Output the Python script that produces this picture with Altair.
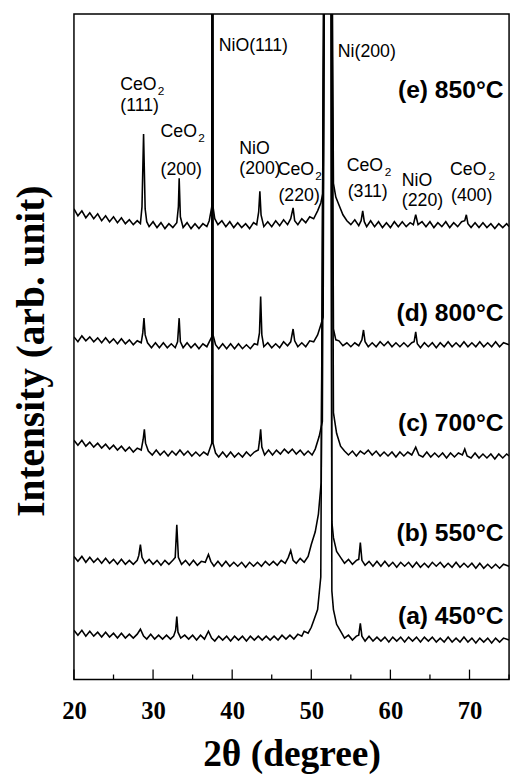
import altair as alt
import pandas as pd

# ---------------- data (2theta in degrees, intensity in arb. units) ----------------
trace_e = [
    (20.0, 478), (20.5, 471), (21.0, 476), (21.5, 469), (22.0, 474), (22.5, 468), (23.0, 473), (23.5, 466),
    (24.0, 471), (24.5, 465), (25.0, 470), (25.5, 464), (26.0, 469), (26.5, 463), (27.0, 467), (27.5, 462),
    (28.0, 466), (28.4, 463), (28.6, 480), (28.8, 554), (29.0, 478), (29.2, 465), (29.5, 460), (30.0, 465),
    (30.5, 459), (31.0, 464), (31.5, 458), (32.0, 463), (32.5, 459), (33.0, 464), (33.2, 480), (33.3, 509),
    (33.45, 470), (33.8, 459), (34.3, 464), (34.8, 458), (35.3, 463), (35.8, 458), (36.3, 463), (36.8, 460),
    (37.1, 466), (37.42, 480), (37.5, 1000), (37.58, 480), (37.8, 468), (38.2, 462), (38.7, 466), (39.2, 460),
    (39.7, 465), (40.2, 459), (40.7, 464), (41.2, 459), (41.7, 463), (42.2, 458), (42.7, 464), (43.1, 462),
    (43.35, 475), (43.5, 496), (43.65, 472), (44.0, 460), (44.5, 465), (45.0, 460), (45.5, 466), (46.0, 461),
    (46.5, 467), (47.0, 462), (47.4, 468), (47.7, 479), (47.9, 466), (48.3, 462), (48.8, 468), (49.3, 464),
    (49.8, 470), (50.3, 468), (50.8, 476), (51.2, 484), (51.5, 495), (51.75, 1000), (52.45, 1000), (52.8, 504),
    (53.1, 490), (53.5, 482), (54.0, 472), (54.5, 466), (55.0, 462), (55.5, 467), (56.0, 461), (56.3, 466),
    (56.5, 476), (56.7, 465), (57.0, 460), (57.5, 466), (58.0, 460), (58.5, 465), (59.0, 459), (59.5, 464),
    (60.0, 459), (60.5, 465), (61.0, 460), (61.5, 465), (62.0, 460), (62.5, 464), (62.9, 462), (63.2, 472),
    (63.5, 462), (64.0, 465), (64.5, 460), (65.0, 465), (65.5, 459), (66.0, 464), (66.5, 460), (67.0, 465),
    (67.5, 459), (68.0, 464), (68.5, 460), (69.0, 465), (69.4, 466), (69.6, 472), (69.8, 463), (70.2, 459),
    (70.7, 464), (71.2, 459), (71.7, 464), (72.2, 459), (72.7, 463), (73.2, 458), (73.7, 463), (74.2, 459),
    (74.7, 463), (75.0, 460),
]

trace_d = [
    (20.0, 348), (20.5, 343), (21.0, 349), (21.5, 344), (22.0, 348), (22.5, 343), (23.0, 347), (23.5, 342),
    (24.0, 347), (24.5, 342), (25.0, 346), (25.5, 341), (26.0, 346), (26.5, 341), (27.0, 345), (27.5, 340),
    (28.0, 344), (28.5, 342), (28.7, 352), (28.85, 367), (29.0, 350), (29.3, 342), (29.8, 337), (30.3, 342),
    (30.8, 337), (31.3, 342), (31.8, 337), (32.3, 341), (32.8, 337), (33.1, 343), (33.3, 367), (33.45, 343),
    (33.8, 337), (34.3, 342), (34.8, 337), (35.3, 341), (35.8, 336), (36.3, 341), (36.8, 338), (37.42, 348),
    (37.5, 1000), (37.58, 350), (37.9, 340), (38.3, 336), (38.8, 341), (39.3, 336), (39.8, 341), (40.3, 336),
    (40.8, 341), (41.3, 336), (41.8, 340), (42.3, 336), (42.8, 341), (43.2, 340), (43.45, 352), (43.6, 389),
    (43.75, 350), (44.0, 338), (44.5, 342), (45.0, 337), (45.5, 341), (46.0, 337), (46.5, 343), (47.0, 339),
    (47.4, 343), (47.7, 356), (47.9, 344), (48.3, 338), (48.8, 342), (49.3, 338), (49.8, 344), (50.3, 343),
    (50.8, 350), (51.2, 360), (51.5, 368), (51.75, 1000), (52.45, 1000), (52.8, 356), (53.1, 345), (53.5, 344),
    (54.0, 339), (54.5, 342), (55.0, 338), (55.5, 342), (56.0, 339), (56.4, 345), (56.6, 355), (56.8, 343),
    (57.2, 338), (57.7, 342), (58.2, 338), (58.7, 343), (59.2, 339), (59.7, 343), (60.2, 338), (60.7, 342),
    (61.2, 338), (61.7, 342), (62.2, 338), (62.7, 342), (63.0, 343), (63.2, 353), (63.4, 341), (63.8, 337),
    (64.3, 342), (64.8, 338), (65.3, 342), (65.8, 337), (66.3, 342), (66.8, 338), (67.3, 343), (67.8, 338),
    (68.3, 342), (68.8, 338), (69.3, 343), (69.8, 338), (70.3, 342), (70.8, 338), (71.3, 343), (71.8, 338),
    (72.3, 342), (72.8, 338), (73.3, 343), (73.8, 338), (74.3, 342), (75.0, 340),
]

trace_c = [
    (20.0, 243), (20.5, 238), (21.0, 243), (21.5, 237), (22.0, 241), (22.5, 236), (23.0, 240), (23.5, 235),
    (24.0, 239), (24.5, 234), (25.0, 238), (25.5, 233), (26.0, 237), (26.5, 232), (27.0, 236), (27.5, 231),
    (28.0, 235), (28.5, 233), (28.75, 244), (28.9, 254), (29.05, 240), (29.4, 232), (29.9, 228), (30.4, 233),
    (30.9, 228), (31.4, 232), (31.9, 227), (32.4, 232), (32.9, 228), (33.4, 233), (33.9, 228), (34.4, 232),
    (34.9, 227), (35.4, 231), (35.9, 227), (36.4, 231), (36.9, 228), (37.42, 240), (37.5, 1000), (37.58, 240),
    (37.9, 230), (38.3, 226), (38.8, 231), (39.3, 226), (39.8, 231), (40.3, 226), (40.8, 230), (41.3, 226),
    (41.8, 231), (42.3, 227), (42.8, 231), (43.3, 233), (43.45, 242), (43.6, 254), (43.75, 236), (44.1, 228),
    (44.6, 233), (45.1, 228), (45.6, 233), (46.1, 229), (46.6, 234), (47.1, 230), (47.6, 234), (48.1, 229),
    (48.6, 233), (49.1, 228), (49.6, 232), (50.1, 228), (50.5, 234), (51.0, 247), (51.4, 262), (51.75, 1000),
    (52.45, 1000), (52.8, 271), (53.2, 250), (53.7, 237), (54.2, 232), (54.7, 228), (55.2, 232), (55.7, 227),
    (56.2, 232), (56.7, 229), (57.2, 233), (57.7, 228), (58.2, 232), (58.7, 227), (59.2, 231), (59.7, 227),
    (60.2, 231), (60.7, 226), (61.2, 231), (61.7, 227), (62.2, 231), (62.7, 228), (63.2, 236), (63.6, 228),
    (64.1, 226), (64.6, 231), (65.1, 226), (65.6, 230), (66.1, 226), (66.6, 230), (67.1, 225), (67.6, 230),
    (68.1, 226), (68.6, 230), (69.1, 228), (69.4, 234), (69.7, 227), (70.2, 225), (70.7, 230), (71.2, 225),
    (71.7, 229), (72.2, 225), (72.7, 229), (73.2, 224), (73.7, 229), (74.2, 225), (74.7, 229), (75.0, 227),
]

trace_b = [
    (20.0, 125), (20.5, 120), (21.0, 125), (21.5, 119), (22.0, 124), (22.5, 119), (23.0, 123), (23.5, 118),
    (24.0, 123), (24.5, 118), (25.0, 122), (25.5, 117), (26.0, 122), (26.5, 117), (27.0, 121), (27.5, 117),
    (28.0, 121), (28.2, 126), (28.4, 137), (28.6, 124), (29.0, 118), (29.5, 122), (30.0, 117), (30.5, 121),
    (31.0, 116), (31.5, 121), (32.0, 117), (32.5, 121), (32.8, 124), (33.0, 157), (33.2, 124), (33.6, 117),
    (34.1, 121), (34.6, 116), (35.1, 121), (35.6, 116), (36.1, 120), (36.6, 119), (37.0, 127), (37.3, 120),
    (37.7, 115), (38.2, 120), (38.7, 115), (39.2, 120), (39.7, 115), (40.2, 119), (40.7, 115), (41.2, 119),
    (41.7, 114), (42.2, 119), (42.7, 115), (43.2, 119), (43.7, 115), (44.2, 120), (44.7, 116), (45.2, 120),
    (45.7, 116), (46.2, 121), (46.7, 118), (47.1, 124), (47.4, 131), (47.7, 121), (48.1, 118), (48.6, 123),
    (49.1, 119), (49.6, 125), (50.0, 137), (50.5, 150), (50.9, 168), (51.25, 200), (51.75, 1000), (52.45, 1000),
    (52.6, 160), (52.8, 144), (53.2, 130), (53.7, 124), (54.2, 118), (54.7, 122), (55.2, 117), (55.7, 121),
    (56.0, 122), (56.2, 139), (56.4, 121), (56.8, 116), (57.3, 120), (57.8, 115), (58.3, 120), (58.8, 115),
    (59.3, 120), (59.8, 115), (60.3, 119), (60.8, 114), (61.3, 119), (61.8, 115), (62.3, 119), (62.8, 114),
    (63.3, 119), (63.8, 114), (64.3, 118), (64.8, 114), (65.3, 119), (65.8, 115), (66.3, 119), (66.8, 114),
    (67.3, 118), (67.8, 114), (68.3, 119), (68.8, 114), (69.3, 118), (69.8, 114), (70.3, 118), (70.8, 113),
    (71.3, 118), (71.8, 113), (72.3, 117), (72.8, 113), (73.3, 117), (73.8, 113), (74.3, 117), (75.0, 115),
]

trace_a = [
    (20.0, 50), (20.5, 45), (21.0, 50), (21.5, 44), (22.0, 49), (22.5, 44), (23.0, 48), (23.5, 43),
    (24.0, 48), (24.5, 43), (25.0, 47), (25.5, 42), (26.0, 47), (26.5, 42), (27.0, 46), (27.5, 42),
    (28.0, 46), (28.4, 51), (28.8, 44), (29.2, 41), (29.7, 46), (30.2, 41), (30.7, 45), (31.2, 41),
    (31.7, 45), (32.2, 41), (32.6, 44), (32.85, 50), (33.0, 64), (33.15, 48), (33.5, 42), (34.0, 45),
    (34.5, 41), (35.0, 45), (35.5, 40), (36.0, 45), (36.5, 41), (37.0, 49), (37.4, 42), (37.8, 39),
    (38.3, 44), (38.8, 40), (39.3, 44), (39.8, 39), (40.3, 44), (40.8, 40), (41.3, 44), (41.8, 39),
    (42.3, 44), (42.8, 40), (43.3, 44), (43.8, 40), (44.3, 44), (44.8, 40), (45.3, 44), (45.8, 40),
    (46.3, 45), (46.8, 41), (47.3, 45), (47.8, 41), (48.3, 46), (48.8, 44), (49.1, 49), (49.6, 47),
    (50.0, 53), (50.4, 62), (50.8, 71), (51.2, 104), (51.75, 1000), (52.45, 1000), (52.6, 90), (52.8, 71),
    (53.2, 56), (53.7, 49), (54.2, 42), (54.7, 45), (55.2, 40), (55.7, 44), (56.0, 45), (56.2, 57),
    (56.4, 44), (56.8, 39), (57.3, 44), (57.8, 39), (58.3, 43), (58.8, 39), (59.3, 43), (59.8, 38),
    (60.3, 43), (60.8, 39), (61.3, 43), (61.8, 38), (62.3, 43), (62.8, 39), (63.3, 43), (63.8, 38),
    (64.3, 43), (64.8, 39), (65.3, 43), (65.8, 38), (66.3, 42), (66.8, 38), (67.3, 43), (67.8, 38),
    (68.3, 42), (68.8, 38), (69.3, 43), (69.8, 38), (70.3, 42), (70.8, 37), (71.3, 42), (71.8, 38),
    (72.3, 42), (72.8, 37), (73.3, 42), (73.8, 38), (74.3, 42), (75.0, 40),
]

trace_names = ["e", "d", "c", "b", "a"]
trace_lists = [trace_e, trace_d, trace_c, trace_b, trace_a]

# Temperature labels
temp_text = ["(e) 850°C", "(d) 800°C", "(c) 700°C", "(b) 550°C", "(a) 450°C"]
temp_tth = [74.3, 74.3, 74.3, 74.3, 74.3]
temp_int = [591, 364, 252, 141, 56]

# Peak annotation labels
ann_text = ["CeO", "(111)", "CeO", "(200)", "NiO(111)", "NiO", "(200)", "CeO", "(220)",
            "Ni(200)", "CeO", "(311)", "NiO", "(220)", "CeO", "(400)"]
ann_tth = [25.85, 25.85, 30.95, 30.95, 38.3, 40.9, 40.9, 45.75, 45.85,
           53.35, 54.47, 54.6, 61.44, 61.44, 67.54, 67.66]
ann_int = [599, 577, 551, 512, 638, 534, 513, 512, 486,
           632, 516, 490, 501, 481, 512, 486]

# Subscript "2" of CeO2 labels
sub_text = ["2", "2", "2", "2", "2"]
sub_tth = [30.6, 35.7, 50.5, 59.3, 72.4]
sub_int = [594, 546, 507, 511, 507]

# Axis ticks
major_ticks = [20, 30, 40, 50, 60, 70]
minor_ticks = [25, 35, 45, 55, 65, 75]

# ---------------- build tables ----------------
rows = []
for name, pts in zip(trace_names, trace_lists):
    for i, (t, v) in enumerate(pts):
        rows.append({"trace": name, "tth": t, "inten": v, "i": i})
df = pd.DataFrame(rows)

temp_df = pd.DataFrame({"text": temp_text, "tth": temp_tth, "inten": temp_int})
ann_df = pd.DataFrame({"text": ann_text, "tth": ann_tth, "inten": ann_int})
sub_df = pd.DataFrame({"text": sub_text, "tth": sub_tth, "inten": sub_int})
major_df = pd.DataFrame({"pos": major_ticks})
minor_df = pd.DataFrame({"pos": minor_ticks})

xscale = alt.Scale(domain=[20, 75], nice=False, zero=False)
yscale = alt.Scale(domain=[0, 676], nice=False, zero=False)

x_axis = alt.Axis(
    values=major_ticks, ticks=False, tickSize=0, domain=False, grid=False,
    labelFont="Liberation Serif", labelFontWeight="bold", labelFontSize=25,
    labelColor="black", labelPadding=20, labelFlush=False,
    title="2θ (degree)", titleFont="Liberation Serif", titleFontWeight="bold",
    titleFontSize=38, titleColor="black", titleBaseline="alphabetic", titleY=87,
)
y_axis = alt.Axis(
    labels=False, ticks=False, domain=False, grid=False,
    title="Intensity (arb. unit)", titleFont="Liberation Serif", titleFontWeight="bold",
    titleFontSize=40, titleColor="black", titleBaseline="alphabetic", titleAngle=270,
    titleX=-31, titleY=342,
)

lines = alt.Chart(df).mark_line(color="black", strokeWidth=1.6, clip=True).encode(
    x=alt.X("tth:Q", scale=xscale, axis=x_axis),
    y=alt.Y("inten:Q", scale=yscale, axis=y_axis),
    detail="trace:N",
    order="i:Q",
)

major = alt.Chart(major_df).mark_rule(color="black", strokeWidth=1.3).encode(
    x=alt.X("pos:Q", scale=xscale), y=alt.value(676), y2=alt.value(666)
)
minor = alt.Chart(minor_df).mark_rule(color="black", strokeWidth=1.3).encode(
    x=alt.X("pos:Q", scale=xscale), y=alt.value(676), y2=alt.value(671)
)

temps = alt.Chart(temp_df).mark_text(
    align="right", baseline="alphabetic", font="Liberation Sans", fontWeight="bold",
    fontSize=25, color="black"
).encode(x=alt.X("tth:Q", scale=xscale), y=alt.Y("inten:Q", scale=yscale), text="text:N")

anns = alt.Chart(ann_df).mark_text(
    align="left", baseline="alphabetic", font="Liberation Sans", fontSize=18, color="black"
).encode(x=alt.X("tth:Q", scale=xscale), y=alt.Y("inten:Q", scale=yscale), text="text:N")

subs = alt.Chart(sub_df).mark_text(
    align="left", baseline="alphabetic", font="Liberation Sans", fontSize=12, color="black"
).encode(x=alt.X("tth:Q", scale=xscale), y=alt.Y("inten:Q", scale=yscale), text="text:N")

chart = alt.layer(lines, major, minor, temps, anns, subs).properties(
    width=442, height=676,
    autosize=alt.AutoSizeParams(type="none"),
    padding={"left": 67, "top": 0, "right": 4, "bottom": 92},
).configure_view(stroke="black", strokeWidth=1.5)

chart.save("out.html", embed_options={"renderer": "svg", "actions": False})
